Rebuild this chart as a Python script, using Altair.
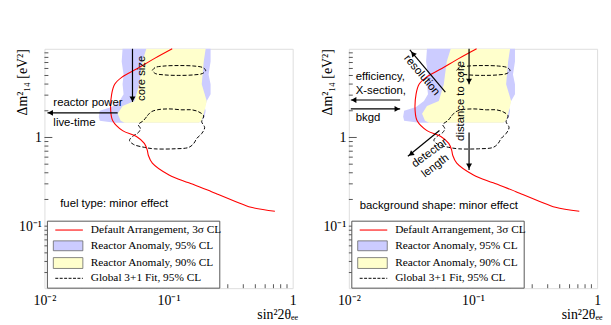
import altair as alt
import pandas as pd

W, H = 252, 243

# ---------------- data (sin^2 2theta_ee , Delta m^2_14 [eV^2]) ----------------
sens_x = [0.107, 0.0766, 0.0561, 0.0419, 0.0368, 0.0348, 0.0342, 0.0355, 0.0426, 0.0551,
          0.0638, 0.0674, 0.0687, 0.0740, 0.1009, 0.1456, 0.222, 0.252, 0.345, 0.462, 0.719]
sens_y = [10.0, 7.74, 5.99, 4.76, 3.98, 3.08, 2.0, 1.545, 1.196, 1.026,
          0.858, 0.717, 0.631, 0.514, 0.378, 0.308, 0.245, 0.227, 0.190, 0.163, 0.147]

ra95_y = [10.0, 7.17, 5.14, 3.98, 3.08, 2.58, 2.21, 2.0, 1.71, 1.545, 1.47]
ra95_lo = [0.0426, 0.0419, 0.0434, 0.0426, 0.0434, 0.0403, 0.0348, 0.0279, 0.0274, 0.0279, 0.0368]
ra95_hi = [0.218, 0.218, 0.210, 0.218, 0.218, 0.203, 0.195, 0.199, 0.195, 0.185, 0.175]

ra90_y = [10.0, 7.17, 3.98, 2.58, 2.27, 1.85, 1.545, 1.47]
ra90_lo = [0.0662, 0.0615, 0.0582, 0.0531, 0.0426, 0.0389, 0.0411, 0.0442]
ra90_hi = [0.199, 0.192, 0.185, 0.203, 0.199, 0.192, 0.185, 0.175]

fit_a_x = [0.0739, 0.078, 0.092, 0.121, 0.160, 0.188, 0.199, 0.188, 0.160, 0.121, 0.092, 0.078, 0.0739]
fit_a_y = [5.70, 6.15, 6.39, 6.47, 6.39, 6.15, 5.70, 5.27, 5.08, 5.01, 5.08, 5.27, 5.70]

fit_b_x = [0.0674, 0.0725, 0.0810, 0.1009, 0.1281, 0.1539, 0.1750, 0.1918, 0.1849, 0.1953,
           0.1849, 0.1687, 0.1597, 0.1457, 0.1106, 0.0766, 0.0638, 0.0521, 0.04845, 0.0512,
           0.0571, 0.0593, 0.0571, 0.0626, 0.0674]
fit_b_y = [1.756, 1.945, 2.05, 2.10, 2.05, 2.05, 1.945, 1.756, 1.506, 1.292,
           1.108, 0.975, 0.858, 0.774, 0.745, 0.745, 0.774, 0.836, 0.926, 1.026,
           1.137, 1.259, 1.395, 1.545, 1.756]

x_labels = [0.01, 0.1, 1.0]
y_labels = [0.1, 1.0]
x_major = [0.1]
x_minor = [0.02, 0.03, 0.04, 0.05, 0.06, 0.07, 0.08, 0.09, 0.2, 0.3, 0.4, 0.5, 0.6, 0.7, 0.8, 0.9]
y_major = [0.1, 1.0]
y_minor = [0.03, 0.04, 0.05, 0.06, 0.07, 0.08, 0.09, 0.2, 0.3, 0.4, 0.5, 0.6, 0.7, 0.8, 0.9,
           2, 3, 4, 5, 6, 7, 8, 9]

legend_labels = ["Default Arrangement, 3\u03c3 CL", "Reactor Anomaly, 95% CL",
                 "Reactor Anomaly, 90% CL", "Global 3+1 Fit,  95% CL"]

# annotations: (text, x, y[, angle])
left_texts = [("reactor power", 0.0118, 2.45), ("live-time", 0.0118, 1.468),
              ("fuel type: minor effect", 0.0134, 0.1755)]
left_rot = [("core size", 0.0615, 4.64, 270)]
left_arrows = [(0.0512, 10.0, 0.0512, 2.51), (0.0389, 1.896, 0.01057, 1.896)]
left_heads = [(0.0512, 2.71, 180), (0.01116, 1.896, 270)]

right_texts = [("efficiency,", 0.01136, 4.76), ("X-section,", 0.01136, 3.33), ("bkgd", 0.01136, 1.668),
               ("background shape: minor effect", 0.01223, 0.1668)]
right_rot = [("resolution", 0.0386, 5.01, 50), ("distance to core", 0.0803, 2.58, 270),
             ("detector", 0.0448, 0.664, 324), ("length", 0.0499, 0.476, 323)]
right_arrows = [(0.0599, 3.245, 0.0310, 9.75), (0.0259, 2.644, 0.01037, 2.644),
                (0.01037, 2.10, 0.0259, 2.10), (0.093, 10.0, 0.093, 3.98),
                (0.093, 1.137, 0.093, 0.430), (0.0537, 1.196, 0.0299, 0.615)]
right_heads = [(0.0328, 8.8, 320), (0.01096, 2.644, 270), (0.0245, 2.10, 90),
               (0.093, 4.30, 180), (0.093, 0.476, 180), (0.0316, 0.647, 231)]

# ---------------- scales / axes ----------------
SERIF = "Liberation Serif"
SANS = "Liberation Sans"
xscale = alt.Scale(type="log", domain=[0.01, 1.0], nice=False)
yscale = alt.Scale(type="log", domain=[0.02, 10.0], nice=False)

xaxis = alt.Axis(values=x_labels,
                 labelExpr="datum.value >= 0.5 ? '1' : (datum.value >= 0.05 ? '10\u207b\u00b9' : '10\u207b\u00b2')",
                 ticks=False, domain=False, grid=False, labelFont=SERIF, labelFontSize=14,
                 labelColor="black", labelPadding=6, labelFlush=False, labelOverlap=False,
                 labelBound=False, title="sin\u00b22\u03b8\u2091\u2091", titleFont=SERIF,
                 titleFontSize=14, titleFontWeight="normal", titleColor="black",
                 titleX=257, titleY=27, titleAlign="right", titleBaseline="middle")
yaxis = alt.Axis(values=y_labels,
                 labelExpr="datum.value >= 0.5 ? '1' : '10\u207b\u00b9'",
                 ticks=False, domain=False, grid=False, labelFont=SERIF, labelFontSize=14,
                 labelColor="black", labelPadding=3, labelOverlap=False, labelBound=False,
                 title="\u0394m\u00b2\u2081\u2084 [eV\u00b2]", titleFont=SERIF, titleFontSize=14,
                 titleFontWeight="normal", titleColor="black", titleAngle=270,
                 titleX=-22, titleY=0, titleAlign="right", titleBaseline="middle")


def X(f):
    return alt.X(f, type="quantitative", scale=xscale, axis=xaxis)


def Y(f):
    return alt.Y(f, type="quantitative", scale=yscale, axis=yaxis)


def polygon(ys, los, his):
    # left edge top->bottom, then right edge bottom->top
    xs = list(los) + list(reversed(his)) + [los[0]]
    yy = list(ys) + list(reversed(ys)) + [ys[0]]
    return pd.DataFrame({"x": xs, "y": yy, "i": range(len(xs))})


sens_df = pd.DataFrame({"x": sens_x, "y": sens_y, "i": range(len(sens_x))})
ra95_df = polygon(ra95_y, ra95_lo, ra95_hi)
ra90_df = polygon(ra90_y, ra90_lo, ra90_hi)
fit_df = pd.concat([
    pd.DataFrame({"x": fit_a_x, "y": fit_a_y, "c": "a", "i": range(len(fit_a_x))}),
    pd.DataFrame({"x": fit_b_x, "y": fit_b_y, "c": "b", "i": range(len(fit_b_x))}),
])
ytick_df = pd.concat([pd.DataFrame({"v": y_major, "len": 8}), pd.DataFrame({"v": y_minor, "len": 4})])
xtick_df = pd.concat([pd.DataFrame({"v": x_major, "len": 8}), pd.DataFrame({"v": x_minor, "len": 4})])
dummy = pd.DataFrame({"d": [0]})


def panel(texts, rots, arrows, heads):
    layers = []
    layers.append(alt.Chart(ra95_df).mark_line(filled=True, fill="#ccccff", strokeWidth=0,
                                               interpolate="linear").encode(
        x=X("x"), y=Y("y"), order="i:Q"))
    layers.append(alt.Chart(ra90_df).mark_line(filled=True, fill="#ffffcc", strokeWidth=0,
                                               interpolate="linear").encode(
        x=X("x"), y=Y("y"), order="i:Q"))
    layers.append(alt.Chart(fit_df).mark_line(color="black", strokeWidth=1, strokeDash=[4, 2],
                                              interpolate="catmull-rom").encode(
        x=X("x"), y=Y("y"), detail="c:N", order="i:Q"))
    layers.append(alt.Chart(sens_df).mark_line(color="#ff0000", strokeWidth=1.1,
                                               interpolate="catmull-rom").encode(
        x=X("x"), y=Y("y"), order="i:Q"))
    # inward ticks
    layers.append(alt.Chart(ytick_df).transform_filter("datum.len == 8").mark_rule(color="#555").encode(
        y=Y("v"), x=alt.value(0), x2=alt.value(8)))
    layers.append(alt.Chart(ytick_df).transform_filter("datum.len == 4").mark_rule(color="#555").encode(
        y=Y("v"), x=alt.value(0), x2=alt.value(4)))
    layers.append(alt.Chart(xtick_df).transform_filter("datum.len == 8").mark_rule(color="#555").encode(
        x=X("v"), y=alt.value(H), y2=alt.value(H - 8)))
    layers.append(alt.Chart(xtick_df).transform_filter("datum.len == 4").mark_rule(color="#555").encode(
        x=X("v"), y=alt.value(H), y2=alt.value(H - 4)))
    # arrows
    adf = pd.DataFrame(arrows, columns=["x", "y", "x2", "y2"])
    layers.append(alt.Chart(adf).mark_rule(color="black", strokeWidth=1.2).encode(
        x=X("x"), y=Y("y"), x2="x2", y2="y2"))
    hdf = pd.DataFrame(heads, columns=["x", "y", "a"])
    layers.append(alt.Chart(hdf).mark_point(shape="triangle-up", filled=True, size=36, color="black",
                                            opacity=1).encode(
        x=X("x"), y=Y("y"), angle=alt.Angle("a:Q", scale=None)))
    # texts
    tdf = pd.DataFrame(texts, columns=["t", "x", "y"])
    layers.append(alt.Chart(tdf).mark_text(align="left", baseline="middle", font=SANS, fontSize=11.5,
                                           color="black").encode(x=X("x"), y=Y("y"), text="t:N"))
    rdf = pd.DataFrame(rots, columns=["t", "x", "y", "a"])
    layers.append(alt.Chart(rdf).mark_text(align="center", baseline="middle", font=SANS, fontSize=11.5,
                                           color="black").encode(
        x=X("x"), y=Y("y"), text="t:N", angle=alt.Angle("a:Q", scale=None)))
    # legend box
    layers.append(alt.Chart(dummy).mark_rect(fill="white", stroke="#555", strokeWidth=1).encode(
        x=alt.value(3), x2=alt.value(178), y=alt.value(175), y2=alt.value(243)))
    layers.append(alt.Chart(dummy).mark_rule(color="#ff0000", strokeWidth=1.1).encode(
        x=alt.value(11), x2=alt.value(39), y=alt.value(184)))
    layers.append(alt.Chart(dummy).mark_rect(fill="#ccccff", stroke="#666", strokeWidth=0.8).encode(
        x=alt.value(9), x2=alt.value(39), y=alt.value(195), y2=alt.value(205)))
    layers.append(alt.Chart(dummy).mark_rect(fill="#ffffcc", stroke="#666", strokeWidth=0.8).encode(
        x=alt.value(9), x2=alt.value(39), y=alt.value(212), y2=alt.value(223)))
    layers.append(alt.Chart(dummy).mark_rule(color="black", strokeWidth=1, strokeDash=[3, 1.5]).encode(
        x=alt.value(11), x2=alt.value(39), y=alt.value(233)))
    for lab, yy in zip(legend_labels, [184, 200, 217, 233]):
        layers.append(alt.Chart(dummy).mark_text(align="left", baseline="middle", font=SERIF,
                                                 fontSize=11.5, color="black").encode(
            x=alt.value(47), y=alt.value(yy), text=alt.value(lab)))
    return alt.layer(*layers).properties(width=W, height=H)


left = panel(left_texts, left_rot, left_arrows, left_heads)
right = panel(right_texts, right_rot, right_arrows, right_heads)

chart = alt.hconcat(left, right, spacing=21).properties(
    padding={"left": 7, "top": 36, "right": 0, "bottom": 0}
).configure_view(stroke="#666", strokeWidth=1).configure(background="white")

chart.save("out.html", embed_options={"renderer": "svg", "actions": False})
